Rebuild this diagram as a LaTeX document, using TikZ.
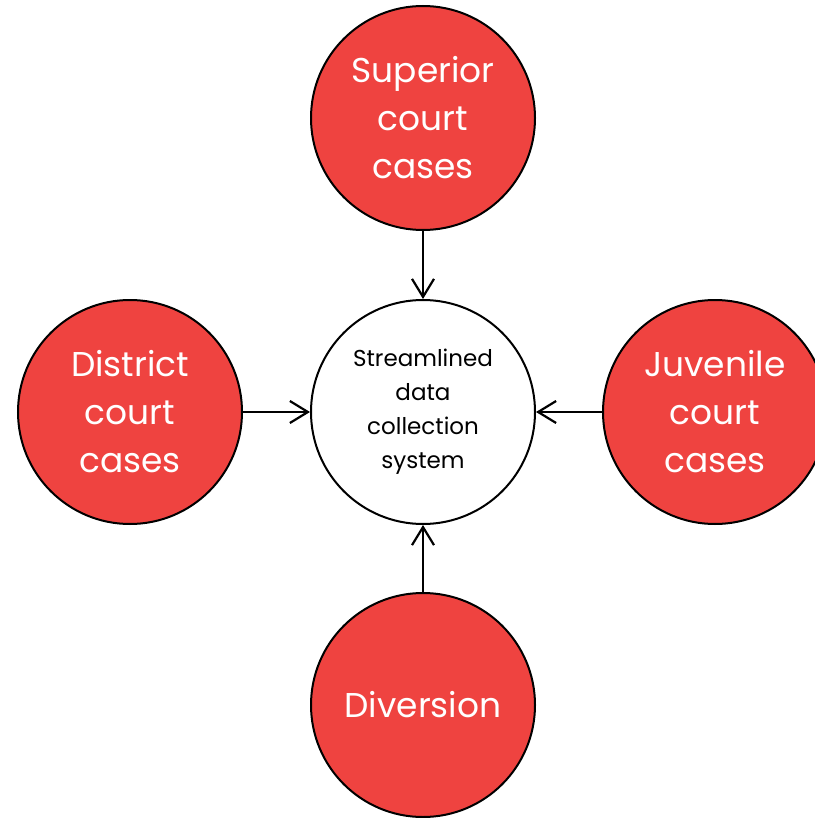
\documentclass[tikz,border=0pt]{standalone}
\usepackage{fontspec}
\setmainfont{Poppins}
\usetikzlibrary{arrows.meta}
\definecolor{courtred}{RGB}{239,67,64}
\begin{document}
\begin{tikzpicture}[
    x=0.5pt, y=-0.5pt,
    source/.style={circle, draw=black, line width=1pt, fill=courtred, minimum size=112pt, inner sep=0pt, align=center, text=white, font=\fontsize{17.2}{24}\selectfont},
    hub/.style={circle, draw=black, line width=1pt, fill=white, minimum size=112pt, inner sep=0pt, align=center, font=\fontsize{11.5}{17}\selectfont},
    arrow/.style={-{Straight Barb[length=9pt, width=11pt]}, line width=1.1pt}
]
    \useasboundingbox (0,0) rectangle (814,818);

    % Centre
    \node[hub] (system) at (423, 412) {Streamlined\\data\\collection\\system};

    % Sources
    \node[source] (superior) at (423, 118) {Superior\\court\\cases};
    \node[source] (district) at (130, 412) {District\\court\\cases};
    \node[source] (juvenile) at (715, 412) {Juvenile\\court\\cases};
    \node[source] (diversion) at (423, 705) {Diversion};

    % Arrows
    \draw[arrow] (superior) -- (system);
    \draw[arrow] (district) -- (system);
    \draw[arrow] (juvenile) -- (system);
    \draw[arrow] (diversion) -- (system);
\end{tikzpicture}
\end{document}
